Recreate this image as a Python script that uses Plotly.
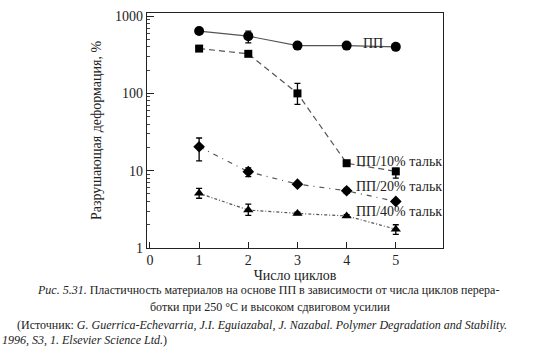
import math
import plotly.graph_objects as go

cycles = [1, 2, 3, 4, 5]
pp = [640, 550, 415, 415, 400]
pp_err_up = [0, 90, 0, 0, 0]
pp_err_dn = [0, 100, 0, 0, 0]
pp10 = [380, 325, 100, 12.5, 9.8]
pp10_up = [0, 0, 35, 0, 0.9]
pp10_dn = [0, 0, 28, 0, 1.8]
pp20 = [20.4, 9.7, 6.7, 5.5, 4.0]
pp20_up = [6.1, 1.2, 0, 0.4, 0.2]
pp20_dn = [7.0, 1.3, 0, 0.4, 0.2]
pp40 = [5.1, 3.1, 2.8, 2.6, 1.75]
pp40_up = [0.8, 0.6, 0.1, 0.1, 0.25]
pp40_dn = [0.7, 0.45, 0.1, 0.1, 0.25]

labels = ["ПП", "ПП/10% тальк", "ПП/20% тальк", "ПП/40% тальк"]
label_pos_x = [4.3, 4.15, 4.15, 4.15]
label_pos_y = [440, 13.2, 6.3, 3.0]

y_ticks = [1, 10, 100, 1000]
y_minor = [m * d for d in (1, 10, 100) for m in range(2, 10)]
x_ticks = [0, 1, 2, 3, 4, 5]

SERIF = "Liberation Serif"
LINE_C = "#555"
W, H = 551, 363
ML, MR, MT, MB = 147, 108, 9, 115
PW, PH = W - ML - MR, H - MT - MB

fig = go.Figure()

series = [
    (pp, pp_err_up, pp_err_dn, "circle", 10, "solid"),
    (pp10, pp10_up, pp10_dn, "square", 8, "6px,4px"),
    (pp20, pp20_up, pp20_dn, "diamond", 9, "5px,5px,1px,5px"),
    (pp40, pp40_up, pp40_dn, "triangle-up", 9, "3px,2px,1px,2px"),
]
for (ys, up, dn, sym, sz, dash), name in zip(series, labels):
    fig.add_trace(go.Scatter(
        x=cycles, y=ys, mode="lines+markers", name=name,
        line=dict(color=LINE_C, width=1.2, dash=dash),
        marker=dict(symbol=sym, size=sz, color="black"),
        error_y=dict(type="data", symmetric=False, array=up, arrayminus=dn,
                     color="black", thickness=1.3, width=3),
        showlegend=False,
    ))

for name, lx, ly in zip(labels, label_pos_x, label_pos_y):
    fig.add_annotation(x=lx, y=math.log10(ly), yref="y", xref="x", text=name,
                       showarrow=False, xanchor="left", yanchor="middle",
                       font=dict(family=SERIF, size=14, color="#222"))

fig.update_xaxes(range=[-0.06, 5.96], tickvals=x_ticks, ticktext=[str(v) for v in x_ticks],
                 ticks="inside", ticklen=6, tickcolor="#222",
                 ticklabelstandoff=-1,
                 showline=True, linecolor="#222", linewidth=1.2, mirror=True,
                 showgrid=False, zeroline=False,
                 tickfont=dict(family=SERIF, size=14, color="#222"),
                 title=dict(text="Число циклов", standoff=2,
                            font=dict(family=SERIF, size=14, color="#222")))
fig.update_yaxes(type="log", range=[0, 3.04], tickvals=y_ticks,
                 ticktext=[str(v) for v in y_ticks],
                 ticks="inside", ticklen=7, tickcolor="#222",
                 minor=dict(tickvals=y_minor, ticks="inside", ticklen=3,
                            tickcolor="#444", showgrid=False),
                 showline=True, linecolor="#222", linewidth=1.2, mirror=True,
                 showgrid=False, zeroline=False,
                 tickfont=dict(family=SERIF, size=14, color="#222"),
                 title=dict(text="Разрушающая деформация, %", standoff=10,
                            font=dict(family=SERIF, size=14, color="#222")))

caption = [
    (35, 291, "left", "<i>Рис. 5.31.</i> Пластичность материалов на основе ПП в зависимости от числа циклов перера-"),
    (270, 308, "center", "ботки при 250 °С и высоком сдвиговом усилии"),
    (15, 326, "left", "(Источник: <i>G. Guerrica-Echevarria, J.I. Eguiazabal, J. Nazabal. Polymer Degradation and Stability.</i>"),
    (0, 342, "left", "<i>1996, S3, 1. Elsevier Science Ltd.</i>)"),
]
for px, py, anc, txt in caption:
    fig.add_annotation(x=(px - ML) / PW, y=(H - MB - py) / PH,
                       xref="paper", yref="paper",
                       yanchor="middle", xanchor=anc,
                       text=txt, showarrow=False,
                       font=dict(family=SERIF, size=12, color="#222"))

fig.update_layout(
    width=W, height=H,
    margin=dict(l=ML, r=MR, t=MT, b=MB),
    paper_bgcolor="white", plot_bgcolor="white",
)
fig.write_html("out.html", config={"displayModeBar": False},
               post_script="document.body.style.margin='0';document.body.style.overflow='hidden';")
